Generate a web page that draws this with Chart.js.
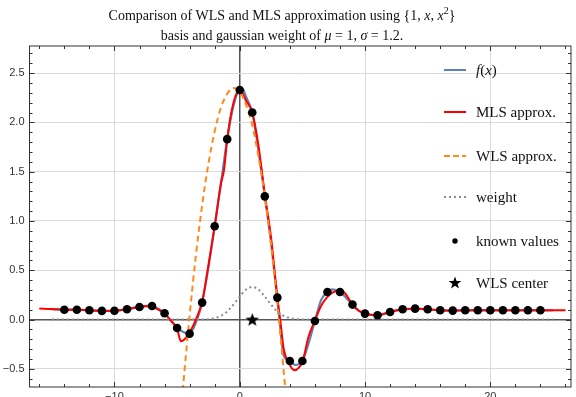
<!DOCTYPE html>
<html>
<head>
<meta charset="utf-8">
<script src="https://cdn.jsdelivr.net/npm/chart.js@4.4.1/dist/chart.umd.min.js"></script>
<style>
  html, body { margin: 0; padding: 0; overflow: hidden; background: #fff; }
  #wrap { position: relative; width: 576px; height: 411px; }
  #title { position: absolute; top: 6px; left: 0; width: 564px; text-align: center;
    font-family: "Liberation Serif", serif; font-size: 14px; line-height: 20px; color: #111; }
  #title sup { font-size: 10px; line-height: 0; }
  .leg { position: absolute; left: 442px; height: 20px; font-family: "Liberation Serif", serif;
    font-size: 15px; color: #111; white-space: nowrap; }
  .leg svg { position: absolute; left: 0; top: 5px; }
  .leg span { position: absolute; left: 34px; top: 0; line-height: 20px; }
</style>
</head>
<body>
<div id="wrap">
  <canvas id="myChart"></canvas>
  <div id="title">Comparison of WLS and MLS approximation using {1, <i>x</i>, <i>x</i><sup>2</sup>}<br>basis and gaussian weight of <i>μ</i> = 1, <i>σ</i> = 1.2.</div>
  <div id="legend"></div>
</div>
<script>
// axis ranges and tick labels
const xMin = -16.78, xMax = 26.44;
const yMin = -0.684, yMax = 2.775;
const xTicks = [-10, 0, 10, 20];
const yTicks = [-0.5, 0, 0.5, 1, 1.5, 2, 2.5];

// f(x), the true function
const fX = [-15,-14,-13,-12,-11,-10,-9,-8,-7.5,-7,-6.5,-6,-5.5,-5,-4.5,-4,-3.5,-3,-2.5,-2,-1.5,-1,-0.5,0,
  0.25,0.5,1,1.5,2,2.5,3,3.25,3.5,4,4.4,5,5.5,6,6.5,7,7.4,8,8.5,9,9.5,10,
  11,12,13,14,15,16,17,18,19,20,21,22,23,24,25];
const fY = [0.105,0.10,0.10,0.094,0.088,0.09,0.105,0.128,0.138,0.138,0.11,0.064,-0.01,-0.085,-0.125,-0.143,-0.03,0.172,0.53,0.947,1.38,1.83,2.17,2.328,
  2.335,2.26,2.10,1.71,1.25,0.78,0.223,-0.1,-0.36,-0.42,-0.46,-0.42,-0.24,-0.014,0.2,0.28,0.307,0.28,0.22,0.152,0.09,0.06,
  0.044,0.077,0.104,0.111,0.104,0.094,0.091,0.094,0.094,0.094,0.094,0.094,0.094,0.094,0.094];

// MLS approximation
const mlsX = [-16,-15,-14,-13,-12,-11,-10,-9,-8,-7.5,-7,-6.5,-6,-5.5,-5,-4.7,-4.4,-4,-3.5,-3,-2.5,-2,-1.5,-1.25,-1,-0.5,0,
  0.5,1,1.5,2,2.5,3,3.25,3.5,4,4.4,4.7,5,5.5,6,6.5,7,7.5,8.1,8.5,9,9.5,10,
  11,12,13,14,15,16,17,18,20,22,24,26];
const mlsY = [0.112,0.108,0.10,0.10,0.094,0.088,0.09,0.105,0.13,0.136,0.132,0.10,0.06,-0.01,-0.09,-0.22,-0.2,-0.13,0.0,0.18,0.55,0.947,1.38,1.52,1.83,2.2,2.33,
  2.22,2.10,1.76,1.27,0.83,0.22,-0.02,-0.29,-0.46,-0.515,-0.49,-0.43,-0.17,-0.01,0.14,0.23,0.28,0.297,0.25,0.15,0.09,0.06,
  0.045,0.077,0.104,0.111,0.104,0.094,0.091,0.094,0.094,0.094,0.094,0.095];

// WLS approximation (single fit centred at mu)
const wlsX = [-4.75,-4.5,-4,-3.5,-3,-2.5,-2,-1.5,-1,-0.5,0,0.5,1,1.5,2,2.5,3,3.5,3.8];
const wlsY = [-1.03,-0.65,0.04,0.65,1.16,1.58,1.91,2.15,2.29,2.35,2.31,2.18,1.97,1.65,1.25,0.76,0.17,-0.51,-0.96];

// gaussian weight
const weightX = [-15,-3,-2,-1.5,-1,-0.5,0,0.5,1,1.5,2,2.5,3,3.5,4,4.5,5,6,25];
const weightY = [0,0,0.015,0.038,0.082,0.152,0.233,0.304,0.33,0.304,0.233,0.152,0.082,0.038,0.015,0.005,0.001,0,0];

// known samples
const knownX = [-14,-13,-12,-11,-10,-9,-8,-7,-6,-5,-4,-3,-2,-1,0,1,2,3,4,5,6,7,8,9,10,
  11,12,13,14,15,16,17,18,19,20,21,22,23,24];
const knownY = [0.10,0.10,0.094,0.088,0.09,0.105,0.128,0.138,0.064,-0.085,-0.143,0.172,0.947,1.83,2.328,2.10,1.25,0.223,-0.42,-0.42,-0.014,0.28,0.28,0.152,0.06,
  0.044,0.077,0.104,0.111,0.104,0.094,0.091,0.094,0.094,0.094,0.094,0.094,0.094,0.094];

// WLS center
const centerX = [1];
const centerY = [0];

const legendNames = ['<i>f</i>(<i>x</i>)', 'MLS approx.', 'WLS approx.', 'weight', 'known values', 'WLS center'];

function pts(xs, ys) {
  return xs.map((x, i) => ({x: x, y: ys[i]}));
}

function fmt(v) {
  return String(v).replace('-', '\u2212');
}

// filled star marker
function starPath(c, cx, cy, r) {
  c.beginPath();
  for (let i = 0; i < 10; i++) {
    const rr = i % 2 === 0 ? r : r * 0.42;
    const a = -Math.PI / 2 + i * Math.PI / 5;
    c.lineTo(cx + rr * Math.cos(a), cy + rr * Math.sin(a));
  }
  c.closePath();
}
const starImg = document.createElement('canvas');
starImg.width = 15; starImg.height = 15;
const sc = starImg.getContext('2d');
sc.fillStyle = '#000';
starPath(sc, 7.5, 8, 7);
sc.fill();

// frame with inward ticks on all four sides
const frameTicks = {
  id: 'frameTicks',
  afterDatasetsDraw(chart) {
    const ctx = chart.ctx, a = chart.chartArea;
    const x = chart.scales.x, y = chart.scales.y;
    ctx.save();
    ctx.strokeStyle = '#333';
    ctx.lineWidth = 1;
    ctx.strokeRect(a.left, a.top, a.right - a.left, a.bottom - a.top);
    ctx.beginPath();
    for (let v = -16; v <= 26; v += 2) {
      const px = Math.round(x.getPixelForValue(v)) + 0.5;
      const len = v % 10 === 0 ? 5 : 3;
      ctx.moveTo(px, a.bottom); ctx.lineTo(px, a.bottom - len);
      ctx.moveTo(px, a.top); ctx.lineTo(px, a.top + len);
    }
    for (let i = -6; i <= 27; i++) {
      const py = Math.round(y.getPixelForValue(i / 10)) + 0.5;
      const len = i % 5 === 0 ? 5 : 3;
      ctx.moveTo(a.left, py); ctx.lineTo(a.left + len, py);
      ctx.moveTo(a.right, py); ctx.lineTo(a.right - len, py);
    }
    ctx.stroke();
    ctx.restore();
  }
};

const data = {
  datasets: [
    {
      label: 'known values',
      data: pts(knownX, knownY),
      showLine: false,
      pointRadius: 4.3,
      pointBackgroundColor: '#000',
      pointBorderWidth: 0,
      order: 0
    },
    {
      label: 'WLS center',
      data: pts(centerX, centerY),
      showLine: false,
      pointStyle: starImg,
      order: 1
    },
    {
      label: 'weight',
      data: pts(weightX, weightY),
      borderColor: '#8c8c8c',
      borderWidth: 2,
      borderDash: [2, 3],
      pointRadius: 0,
      cubicInterpolationMode: 'monotone',
      order: 2
    },
    {
      label: 'WLS approx.',
      data: pts(wlsX, wlsY),
      borderColor: '#ff8a1c',
      borderWidth: 2,
      borderDash: [6, 4],
      pointRadius: 0,
      cubicInterpolationMode: 'monotone',
      order: 3
    },
    {
      label: 'MLS approx.',
      data: pts(mlsX, mlsY),
      borderColor: '#ff0000',
      borderWidth: 2,
      pointRadius: 0,
      cubicInterpolationMode: 'monotone',
      order: 4
    },
    {
      label: 'f(x)',
      data: pts(fX, fY),
      borderColor: '#5e81b5',
      borderWidth: 2.2,
      pointRadius: 0,
      cubicInterpolationMode: 'monotone',
      order: 5
    }
  ]
};

const tickFont = {family: 'Liberation Sans', size: 11};

const config = {
  type: 'line',
  data: data,
  plugins: [frameTicks],
  options: {
    responsive: true,
    maintainAspectRatio: false,
    animation: false,
    layout: {padding: {top: 46, right: 1, left: 0, bottom: 0}},
    plugins: {legend: {display: false}, tooltip: {enabled: false}},
    scales: {
      x: {
        type: 'linear',
        min: xMin,
        max: xMax,
        afterBuildTicks: s => { s.ticks = xTicks.map(v => ({value: v})); },
        afterFit: s => { s.height = 24; },
        border: {display: false},
        grid: {
          drawTicks: false,
          color: c => c.tick && c.tick.value === 0 ? '#555' : '#dadada',
          lineWidth: c => c.tick && c.tick.value === 0 ? 1.5 : 1
        },
        ticks: {padding: 3, color: '#333', font: tickFont, maxRotation: 0, callback: v => fmt(v)}
      },
      y: {
        type: 'linear',
        min: yMin,
        max: yMax,
        afterBuildTicks: s => { s.ticks = yTicks.map(v => ({value: v})); },
        afterFit: s => { s.width = 29.5; },
        border: {display: false},
        grid: {
          drawTicks: false,
          color: c => c.tick && c.tick.value === 0 ? '#555' : '#dadada',
          lineWidth: c => c.tick && c.tick.value === 0 ? 1.5 : 1
        },
        ticks: {padding: 5, color: '#333', font: tickFont, callback: v => fmt(v.toFixed(1))}
      }
    }
  }
};

const myChart = new Chart(document.getElementById('myChart'), config);

// legend at the right, inside the frame
const legendTops = [60, 102, 146, 187, 231, 273];
const legendMarks = [
  '<svg width="26" height="10"><line x1="2" y1="5" x2="24" y2="5" stroke="#5e81b5" stroke-width="2"/></svg>',
  '<svg width="26" height="10"><line x1="2" y1="5" x2="24" y2="5" stroke="#ff0000" stroke-width="2"/></svg>',
  '<svg width="26" height="10"><line x1="2" y1="5" x2="24" y2="5" stroke="#ff8a1c" stroke-width="2" stroke-dasharray="6 3"/></svg>',
  '<svg width="26" height="10"><line x1="2" y1="5" x2="24" y2="5" stroke="#8c8c8c" stroke-width="2" stroke-dasharray="2 3"/></svg>',
  '<svg width="26" height="10"><circle cx="13" cy="5" r="2.7" fill="#000"/></svg>',
  '<svg width="26" height="14" style="top:3px"><polygon fill="#000" points="13,0.4 14.6,5 19.3,5 15.5,7.9 17,12.6 13,9.7 9,12.6 10.5,7.9 6.7,5 11.4,5"/></svg>'
];
const legend = document.getElementById('legend');
legendNames.forEach((name, i) => {
  const d = document.createElement('div');
  d.className = 'leg';
  d.style.top = legendTops[i] + 'px';
  d.innerHTML = legendMarks[i] + '<span>' + name + '</span>';
  legend.appendChild(d);
});
</script>
</body>
</html>
